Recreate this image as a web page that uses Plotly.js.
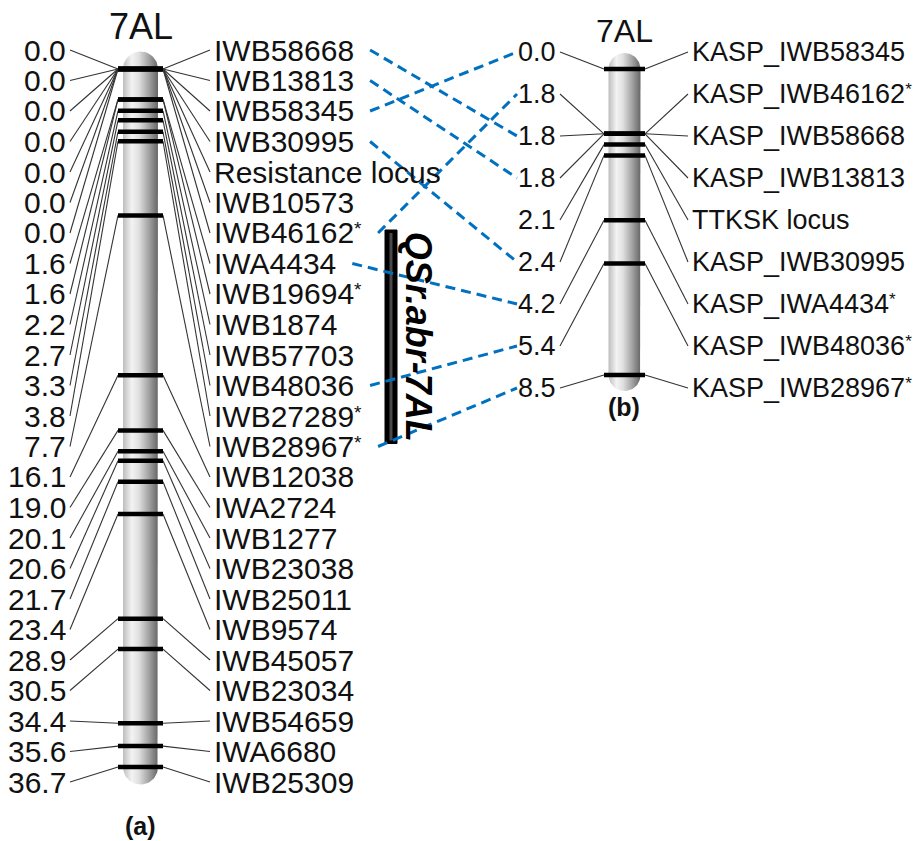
<!DOCTYPE html>
<html>
<head>
<meta charset="utf-8">
<script src="https://cdn.plot.ly/plotly-3.0.1.min.js"></script>
<style>html,body{margin:0;padding:0;background:#fff;}</style>
</head>
<body>
<div id="chart" style="width:916px;height:841px;"></div>
<script>
// ---------- DATA ----------
const chromTitle = '7AL';
const mapA_pos = [0.0,0.0,0.0,0.0,0.0,0.0,0.0,1.6,1.6,2.2,2.7,3.3,3.8,7.7,16.1,19.0,20.1,20.6,21.7,23.4,28.9,30.5,34.4,35.6,36.7];
const mapA_names = ['IWB58668','IWB13813','IWB58345','IWB30995','Resistance locus','IWB10573','IWB46162*','IWA4434','IWB19694*','IWB1874','IWB57703','IWB48036','IWB27289*','IWB28967*','IWB12038','IWA2724','IWB1277','IWB23038','IWB25011','IWB9574','IWB45057','IWB23034','IWB54659','IWA6680','IWB25309'];
const mapB_pos = [0.0,1.8,1.8,1.8,2.1,2.4,4.2,5.4,8.5];
const mapB_names = ['KASP_IWB58345','KASP_IWB46162*','KASP_IWB58668','KASP_IWB13813','TTKSK locus','KASP_IWB30995','KASP_IWA4434*','KASP_IWB48036*','KASP_IWB28967*'];
const qtlName = 'QSr.abr-7AL';
const qtlFrom = 'IWB46162*';
const qtlTo = 'IWB28967*';
const panelLabels = ['(a)', '(b)'];

// ---------- LAYOUT CONSTANTS ----------
const W = 916, H = 841;
const FONT = '"Liberation Sans", Arial, Helvetica, sans-serif';
const A = {cx:140.5, bodyHalf:17.5, bandHalf:22.5, top:69, scale:19.02, row0:50, rowStep:30.5,
           posX:68, nameX:212, lineL:70, lineR:210, font:30, yaxis:'y', titleY:27, titleSize:36};
const B = {cx:624.5, bodyHalf:16, bandHalf:20.5, top:69, scale:36, row0:52, rowStep:42,
           posX:558, nameX:690, lineL:560, lineR:688, font:27, yaxis:'y2', titleY:31, titleSize:32};

function toAxis(cfg, px){ return (px - cfg.top) / cfg.scale; }
function rowPx(cfg, i){ return cfg.row0 + cfg.rowStep * i; }
function paperY(px){ return 1 - px / H; }

const gradient = {type:'horizontal', colorscale:[[0,'#bdbdbd'],[0.25,'#f3f3f3'],[0.45,'#e0e0e0'],[0.75,'#a0a0a0'],[1,'#666666']]};

const traces = [];
const annotations = [];

function labelHTML(name, size){
  if (name.endsWith('*')) {
    const s = Math.round(size * 0.62);
    return name.slice(0,-1) + '<span style="font-size:' + s + 'px;baseline-shift:' + Math.round(size*0.28) + 'px">*</span>';
  }
  return name;
}

function addChrom(cfg, pos, names){
  const ya = cfg.yaxis;
  const yTop = Math.min(...pos), yBot = Math.max(...pos);
  const r = cfg.bodyHalf, ry = r / cfg.scale, n = 40;
  const xs = [], ys = [];
  for (let k = 0; k <= n; k++){ const t = Math.PI - Math.PI*k/n; xs.push(cfg.cx + r*Math.cos(t)); ys.push(yTop - ry*Math.sin(t)); }
  for (let k = 0; k <= n; k++){ const t = -Math.PI*k/n; xs.push(cfg.cx + r*Math.cos(t)); ys.push(yBot - ry*Math.sin(t)); }
  xs.push(xs[0]); ys.push(ys[0]);
  traces.push({x:xs, y:ys, yaxis:ya, mode:'lines', fill:'toself', fillcolor:'#cccccc',
               fillgradient:gradient, line:{width:0, color:'rgba(0,0,0,0)'}, hoverinfo:'skip'});
  // connectors
  const cx = [], cy = [];
  pos.forEach((p, i) => {
    const ry0 = toAxis(cfg, rowPx(cfg, i));
    cx.push(cfg.lineL, cfg.cx - cfg.bandHalf, null, cfg.cx + cfg.bandHalf, cfg.lineR, null);
    cy.push(ry0, p, null, p, ry0, null);
  });
  traces.push({x:cx, y:cy, yaxis:ya, mode:'lines', line:{width:1.1, color:'#333'}, hoverinfo:'skip'});
  // bands
  const bx = [], by = [];
  pos.forEach(p => { bx.push(cfg.cx - cfg.bandHalf, cfg.cx + cfg.bandHalf, null); by.push(p, p, null); });
  traces.push({x:bx, y:by, yaxis:ya, mode:'lines', line:{width:4.5, color:'#000'}, hoverinfo:'skip'});
  // labels
  pos.forEach((p, i) => {
    const yp = paperY(rowPx(cfg, i));
    annotations.push({x:cfg.posX, y:yp, xref:'x', yref:'paper', text:p.toFixed(1), showarrow:false,
      xanchor:'right', yanchor:'middle', font:{family:FONT, size:cfg.font, color:'#111'}});
    annotations.push({x:cfg.nameX, y:yp, xref:'x', yref:'paper', text:labelHTML(names[i], cfg.font), showarrow:false,
      xanchor:'left', yanchor:'middle', font:{family:FONT, size:cfg.font, color:'#111'}});
  });
  annotations.push({x:cfg.cx, y:paperY(cfg.titleY), xref:'x', yref:'paper', text:chromTitle, showarrow:false,
    xanchor:'center', yanchor:'middle', font:{family:FONT, size:cfg.titleSize, color:'#111'}});
}

addChrom(A, mapA_pos, mapA_names);
addChrom(B, mapB_pos, mapB_names);

// measure label widths for dashed-link start
const ctx = document.createElement('canvas').getContext('2d');
ctx.font = A.font + 'px "Liberation Sans"';
function labelWidth(name){
  if (name.endsWith('*')) return ctx.measureText(name.slice(0,-1)).width + 8;
  return ctx.measureText(name).width;
}

// links between maps
const key = s => s.replace('KASP_','').replace('*','');
const lx = [], ly = [];
mapA_names.forEach((na, i) => {
  const j = mapB_names.findIndex(nb => key(nb) === key(na));
  if (j < 0) return;
  lx.push(A.nameX + labelWidth(na) + 18, 517, null);
  ly.push(toAxis(A, rowPx(A, i)), toAxis(A, rowPx(B, j)), null);
});
traces.push({x:lx, y:ly, yaxis:'y', mode:'lines', line:{width:3, color:'#0070C0', dash:'10px,6px'}, hoverinfo:'skip'});

// QTL bar
const qi0 = mapA_names.indexOf(qtlFrom), qi1 = mapA_names.indexOf(qtlTo);
const q0 = rowPx(A, qi0) - 3, q1 = rowPx(A, qi1) - 3;
const shapes = [
  {type:'rect', xref:'x', yref:'y', x0:385, x1:397, y0:toAxis(A, q0), y1:toAxis(A, q1),
   fillcolor:'#000', line:{color:'#000', width:1}, layer:'below'},
  {type:'rect', xref:'x', yref:'y', x0:389.5, x1:392.5, y0:toAxis(A, q0+3), y1:toAxis(A, q1-3),
   fillcolor:'#4a4a4a', line:{width:0}, layer:'below'}
];
annotations.push({x:418, y:paperY((q0+q1)/2), xref:'x', yref:'paper', text:'<b><i>'+qtlName+'</i></b>',
  textangle:90, showarrow:false, xanchor:'center', yanchor:'middle', font:{family:FONT, size:36, color:'#000'}});

annotations.push({x:A.cx, y:paperY(826), xref:'x', yref:'paper', text:'<b>'+panelLabels[0]+'</b>', showarrow:false,
  xanchor:'center', yanchor:'middle', font:{family:FONT, size:25, color:'#111'}});
annotations.push({x:B.cx - 1, y:paperY(407), xref:'x', yref:'paper', text:'<b>'+panelLabels[1]+'</b>', showarrow:false,
  xanchor:'center', yanchor:'middle', font:{family:FONT, size:25, color:'#111'}});

const layout = {
  width:W, height:H, margin:{l:0, r:0, t:0, b:0, pad:0},
  paper_bgcolor:'#fff', plot_bgcolor:'#fff', showlegend:false,
  xaxis:{range:[0, W], visible:false, fixedrange:true},
  yaxis:{range:[(H - A.top)/A.scale, -A.top/A.scale], visible:false, fixedrange:true},
  yaxis2:{range:[(H - B.top)/B.scale, -B.top/B.scale], visible:false, overlaying:'y', fixedrange:true},
  shapes:shapes, annotations:annotations
};
Plotly.newPlot('chart', traces, layout, {staticPlot:true, displayModeBar:false});
</script>
</body>
</html>
